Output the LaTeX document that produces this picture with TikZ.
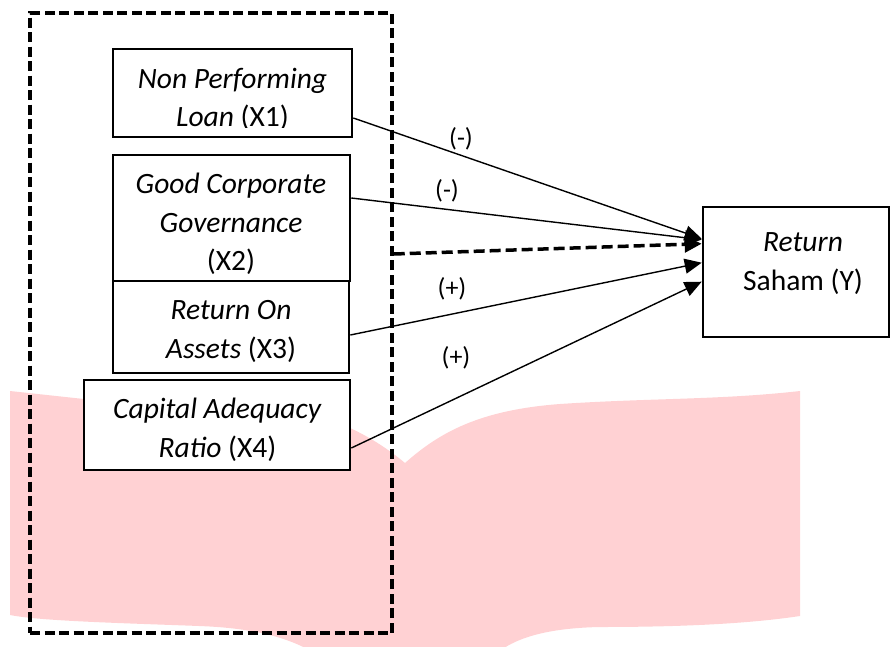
\documentclass[tikz,border=0pt]{standalone}
\usepackage{fontspec}
\setmainfont{Carlito}
\usetikzlibrary{arrows.meta,calc}
\definecolor{pinkbg}{RGB}{255,209,211}
\begin{document}
\begin{tikzpicture}[x=1pt,y=-1pt,
  box/.style={draw,line width=2.6pt,fill=white,inner sep=0pt},
  txt/.style={font=\fontsize{29.5}{39}\selectfont,anchor=base,inner sep=0pt},
  lbl/.style={font=\fontsize{26}{30}\selectfont,inner sep=0pt},
  conn/.style={line width=1.4pt,-{Triangle[length=17pt,width=15pt]}},
  dconn/.style={line width=3.5pt,dash pattern=on 11pt off 5pt,-{Triangle[length=17pt,width=16pt]}},
  framebox/.style={draw,line width=3.5pt,dash pattern=on 10pt off 4.5pt,inner sep=0pt}
  ]
\useasboundingbox (0,0) rectangle (891,646);
% pink background shape
\begin{scope}
\clip (0,0) rectangle (891,646);
\fill[pinkbg] (10,391) -- (84,399) .. controls (250,414) and (330,420) .. (350,428)
  .. controls (372,438) and (392,452) .. (405,463)
  .. controls (440,432) and (480,410) .. (560,404)
  .. controls (650,398) and (720,400) .. (800,391)
  -- (800,616)
  .. controls (760,622) and (700,627) .. (600,627)
  .. controls (550,628) and (510,637) .. (490,660)
  -- (325,660)
  .. controls (295,638) and (255,628) .. (199,626)
  .. controls (120,623) and (40,621) .. (10,615) -- cycle;
\end{scope}
% dashed frame
\node[framebox,minimum width=362pt,minimum height=620pt] (frame) at (211,323) {};
% boxes
\node[box,minimum width=239pt,minimum height=88pt] (x1) at (232.5,93) {};
\node[box,minimum width=237pt,minimum height=126pt] (x2) at (231.5,218) {};
\node[box,minimum width=236pt,minimum height=92pt] (x3) at (231,327) {};
\node[box,minimum width=266pt,minimum height=90pt] (x4) at (217,425) {};
\node[box,minimum width=186pt,minimum height=130pt] (Y) at (796,272) {};
% texts
\node[txt] (x1a) at (232.5,88) {\textit{Non Performing}};
\begin{scope}
\clip (110,95) rectangle (350,127.5);
\node[txt] (x1b) at (232.5,126) {\textit{Loan} (X1)};
\end{scope}
\node[txt] (x2a) at (231,193) {\textit{Good Corporate}};
\node[txt] (x2b) at (231,232) {\textit{Governance}};
\node[txt] (x2c) at (231,270) {(X2)};
\node[txt] (x3a) at (231,319) {\textit{Return On}};
\node[txt] (x3b) at (231,358) {\textit{Assets} (X3)};
\node[txt] (x4a) at (217.5,418) {\textit{Capital Adequacy}};
\node[txt] (x4b) at (217.5,457) {\textit{Ratio} (X4)};
\node[txt] (ya) at (803,251) {\textit{Return}};
\node[txt] (yb) at (803,290) {Saham (Y)};
% connectors
\draw[conn] ([yshift=-25pt]x1.east) -- ([yshift=-33pt]Y.north west);
\draw[conn] ([yshift=20pt]x2.east) -- ([yshift=-34pt]Y.north west);
\draw[dconn] ([yshift=69pt]frame.east) -- ([yshift=-38pt]Y.north west);
\draw[conn] ([yshift=-8pt]x3.east) -- ([yshift=-57pt]Y.north west);
\draw[conn] ([yshift=-23pt]x4.east) -- ([yshift=-76pt]Y.north west);
% labels
\node[lbl] (l1) at (461,139) {(-)};
\node[lbl] (l2) at (447,191) {(-)};
\node[lbl] (l3) at (452,289) {(+)};
\node[lbl] (l4) at (456,358) {(+)};
\end{tikzpicture}
\end{document}
